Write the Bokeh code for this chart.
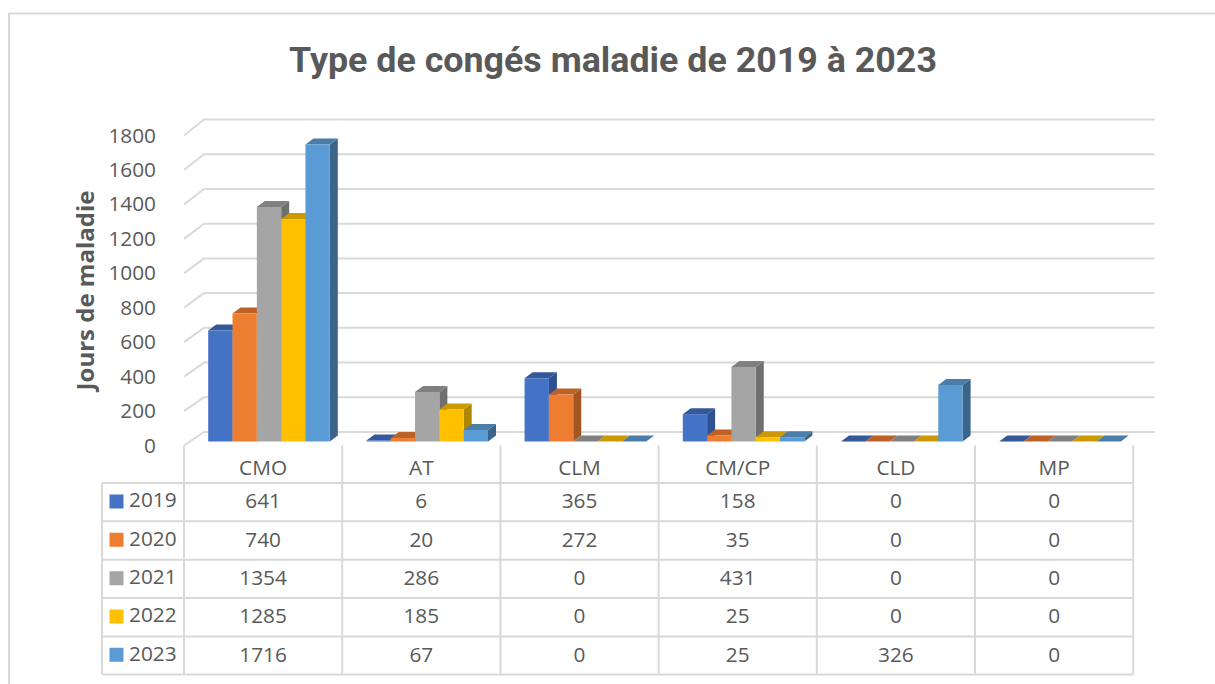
from bokeh.embed import file_html
from bokeh.resources import INLINE
from bokeh.plotting import figure
from bokeh.models import LinearAxis, FixedTicker, Range1d, Label
from bokeh.core.properties import value

TITLE = "Type de congés maladie de 2019 à 2023"
Y_LABEL = "Jours de maladie"
categories = ["CMO", "AT", "CLM", "CM/CP", "CLD", "MP"]
years = ["2019", "2020", "2021", "2022", "2023"]
v2019 = [641, 6, 365, 158, 0, 0]
v2020 = [740, 20, 272, 35, 0, 0]
v2021 = [1354, 286, 0, 431, 0, 0]
v2022 = [1285, 185, 0, 25, 0, 0]
v2023 = [1716, 67, 0, 25, 326, 0]
series = [v2019, v2020, v2021, v2022, v2023]
y_ticks = [0, 200, 400, 600, 800, 1000, 1200, 1400, 1600, 1800]
front = ["#4472C4", "#ED7D31", "#A5A5A5", "#FFC000", "#5B9BD5"]
top = ["#35589A", "#BC6227", "#808080", "#CC9900", "#4A7EA8"]
side = ["#2F5190", "#A35522", "#6F6F6F", "#B08600", "#3A6488"]

W, H = 1215, 684
OX, OY = 0, 0
COL0, COLW = 183.5, 158.2
BASE, PXV = 441.0, 0.1731
def X(px): return (px - COL0) / COLW
def Y(py): return (BASE - py) / PXV

GREY = "#D9D9D9"
TXT = "#595959"
FONT = "Open Sans"
FS = "20.8px"

p = figure(width=W, height=H, output_backend="svg", toolbar_location=None,
           x_range=Range1d(X(OX), X(OX + W)), y_range=Range1d(Y(OY + H), Y(OY)),
           min_border=0, outline_line_color=None, x_axis_type=None, y_axis_type=None)
p.grid.visible = False

# chart border
p.line([X(8.5), X(8.5), X(1215)], [Y(OY + H), Y(13), Y(13)], line_color=GREY, line_width=2)

# walls: gridlines on the side and back wall
BACK0, BACKV = 431.5, 0.1736
FRONT0, FRONTV = 445.0, 0.17222
gx, gy = [], []
for t in y_ticks:
    gx.append([X(183.5), X(203.5), X(1154)])
    gy.append([Y(FRONT0 - FRONTV * t), Y(BACK0 - BACKV * t), Y(BACK0 - BACKV * t)])
p.multi_line(gx, gy, line_color=GREY, line_width=2)

# bars
B0 = (207.7 - COL0) / COLW
BW = 24.32 / COLW
DX, DY = 8 / COLW, 6 / PXV
for s, vals in enumerate(series):
    lefts = [i + B0 + s * BW for i in range(len(categories))]
    rights = [l + BW for l in lefts]
    tops = list(vals)
    sx = [[r, r + DX, r + DX, r] for r in rights]
    sy = [[0, DY, v + DY, v] for v in tops]
    p.patches(sx, sy, fill_color=side[s], line_color=None)
    tx = [[l, l + DX, r + DX, r] for l, r in zip(lefts, rights)]
    ty = [[v, v + DY, v + DY, v] for v in tops]
    p.patches(tx, ty, fill_color=top[s], line_color=None)
    p.quad(left=lefts, right=rights, bottom=[0] * len(tops), top=tops, fill_color=front[s], line_color=None)

# data table
col_edges = [X(COL0 + COLW * i) for i in range(len(categories) + 1)]
row_py = [482.5, 520.8, 559.2, 597.6, 636.0, 674.0]
lx, ly = [], []
for r in row_py:
    lx.append([X(101.5), X(COL0 + COLW * len(categories))])
    ly.append([Y(r), Y(r)])
for c in col_edges:
    lx.append([c, c])
    ly.append([Y(445), Y(674)])
lx.append([X(101.5), X(101.5)])
ly.append([Y(482.5), Y(674)])
p.multi_line(lx, ly, line_color=GREY, line_width=2)

for s, vals in enumerate(series):
    mid = (row_py[s] + row_py[s + 1]) / 2
    p.text(x=[i + 0.5 for i in range(len(categories))], y=[Y(mid - 1)] * len(categories), text=[str(v) for v in vals],
           text_font=value(FONT), text_font_size=FS, text_color=TXT, text_align="center", text_baseline="middle")
    p.text(x=[X(128.5)], y=[Y(mid - 2)], text=[years[s]], text_font=value(FONT), text_font_size=FS, text_color=TXT,
           text_align="left", text_baseline="middle")
    p.quad(left=[X(109)], right=[X(123)], bottom=[Y(mid - 0.7 + 7)], top=[Y(mid - 0.7 - 7)], fill_color=front[s], line_color=None)

# value axis, read on the front edge of the side wall
p.extra_y_ranges["front"] = Range1d((FRONT0 - (OY + H)) / FRONTV, (FRONT0 - OY) / FRONTV)
ya = LinearAxis(y_range_name="front", fixed_location=X(183.5), ticker=FixedTicker(ticks=y_ticks), bounds=(0, 1800),
                axis_line_color=None, major_tick_line_color=None, minor_tick_line_color=None,
                major_label_standoff=22, major_label_text_font=FONT, major_label_text_font_size=FS,
                major_label_text_color=TXT, axis_label=Y_LABEL, axis_label_text_font="Open Sans",
                axis_label_text_font_style="bold", axis_label_text_font_size="24px", axis_label_text_color=TXT,
                axis_label_standoff=5)
p.add_layout(ya, "left")

# category axis
xa = LinearAxis(fixed_location=Y(440.5), ticker=FixedTicker(ticks=[i + 0.5 for i in range(len(categories))]),
                major_label_overrides={i + 0.5: c for i, c in enumerate(categories)},
                axis_line_color=None, major_tick_line_color=None, minor_tick_line_color=None,
                major_label_standoff=6, major_label_text_font=FONT, major_label_text_font_size=FS,
                major_label_text_color=TXT)
p.add_layout(xa, "below")

p.add_layout(Label(x=X(612.5), y=Y(59), text=TITLE, text_font="Roboto", text_font_style="bold", text_font_size="35.8px",
                   text_color=TXT, text_align="center", text_baseline="middle"))

open("out.html", "w").write(file_html(p, INLINE))
